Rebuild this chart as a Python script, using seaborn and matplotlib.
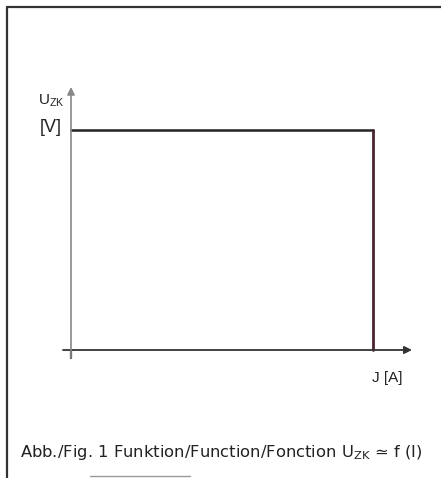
import matplotlib
matplotlib.use("Agg")
import matplotlib.pyplot as plt
import seaborn as sns
import pandas as pd

sns.set_theme(style="white")
plt.rcParams['font.family'] = ['Liberation Sans', 'DejaVu Sans']

# Data: constant U_ZK up to the current limit, then drop to zero
current_top = [0.0, 1.0]
voltage_top = [1.0, 1.0]
current_drop = [1.0, 1.0]
voltage_drop = [1.0, 0.0]

W, H = 441, 478
fig = plt.figure(figsize=(W / 100, H / 100), dpi=100)

# axes frame in pixel terms
px_left, px_right, px_top, px_bottom = 30, 425, 70, 395
ax = fig.add_axes([px_left / W, 1 - px_bottom / H, (px_right - px_left) / W, (px_bottom - px_top) / H])
x0px, x1px = 71, 373
y0px, y1px = 350, 130
sx = (x1px - x0px)
sy = (y0px - y1px)
ax.set_xlim((px_left - x0px) / sx, (px_right - x0px) / sx)
ax.set_ylim((y0px - px_bottom) / sy, (y0px - px_top) / sy)
ax.axis('off')

# axes with arrows
ax.annotate('', xy=((412 - x0px) / sx, 0), xytext=((63 - x0px) / sx, 0),
            arrowprops=dict(arrowstyle='-|>', color='#333333', lw=1.3,
                            mutation_scale=11, shrinkA=0, shrinkB=0))
ax.annotate('', xy=(0, (y0px - 87) / sy), xytext=(0, (y0px - 358) / sy),
            arrowprops=dict(arrowstyle='-|>', color='#888888', lw=1.2,
                            mutation_scale=11, shrinkA=0, shrinkB=0))
ax.plot([0, 0], [0, (y0px - 358) / sy], color='#333333', lw=1.6)

df_top = pd.DataFrame({'I': current_top, 'U': voltage_top})
df_drop = pd.DataFrame({'I': current_drop, 'U': voltage_drop})
sns.lineplot(data=df_top, x='I', y='U', ax=ax, color='#222222', lw=1.8,
             sort=False, estimator=None)
sns.lineplot(data=df_drop, x='I', y='U', ax=ax, color='#4a2433', lw=2.0,
             sort=False, estimator=None)
ax.set_xlabel('')
ax.set_ylabel('')

# labels
ax.text((65 - x0px) / sx, (y0px - 101) / sy, r'U$_{\mathregular{ZK}}$', ha='right', va='center',
        fontsize=11, color='#222222')
ax.text((62 - x0px) / sx, (y0px - 127) / sy, '[V]', ha='right', va='center',
        fontsize=13, color='#222222')
ax.text((387 - x0px) / sx, (y0px - 378) / sy, 'J [A]', ha='center', va='center',
        fontsize=11, color='#222222')

# caption
fig.text(20 / W, 1 - 452 / H,
         'Abb./Fig. 1 Funktion/Function/Fonction U$_{\\mathregular{ZK}}$ \u2243 f (I)',
         ha='left', va='center', fontsize=11.8, color='#222222',
         family=['DejaVu Sans'])

# page border lines (top and left) and faint bottom rule
fig.add_artist(plt.Line2D([7 / W, 1], [1 - 7 / H, 1 - 7 / H], color='#333333', lw=1.6,
                          transform=fig.transFigure))
fig.add_artist(plt.Line2D([7 / W, 7 / W], [1 - 7 / H, 0], color='#333333', lw=1.6,
                          transform=fig.transFigure))
fig.add_artist(plt.Line2D([90 / W, 190 / W], [1 - 476 / H, 1 - 476 / H], color='#999999',
                          lw=1.0, transform=fig.transFigure))

fig.savefig('out.png', dpi=100)
